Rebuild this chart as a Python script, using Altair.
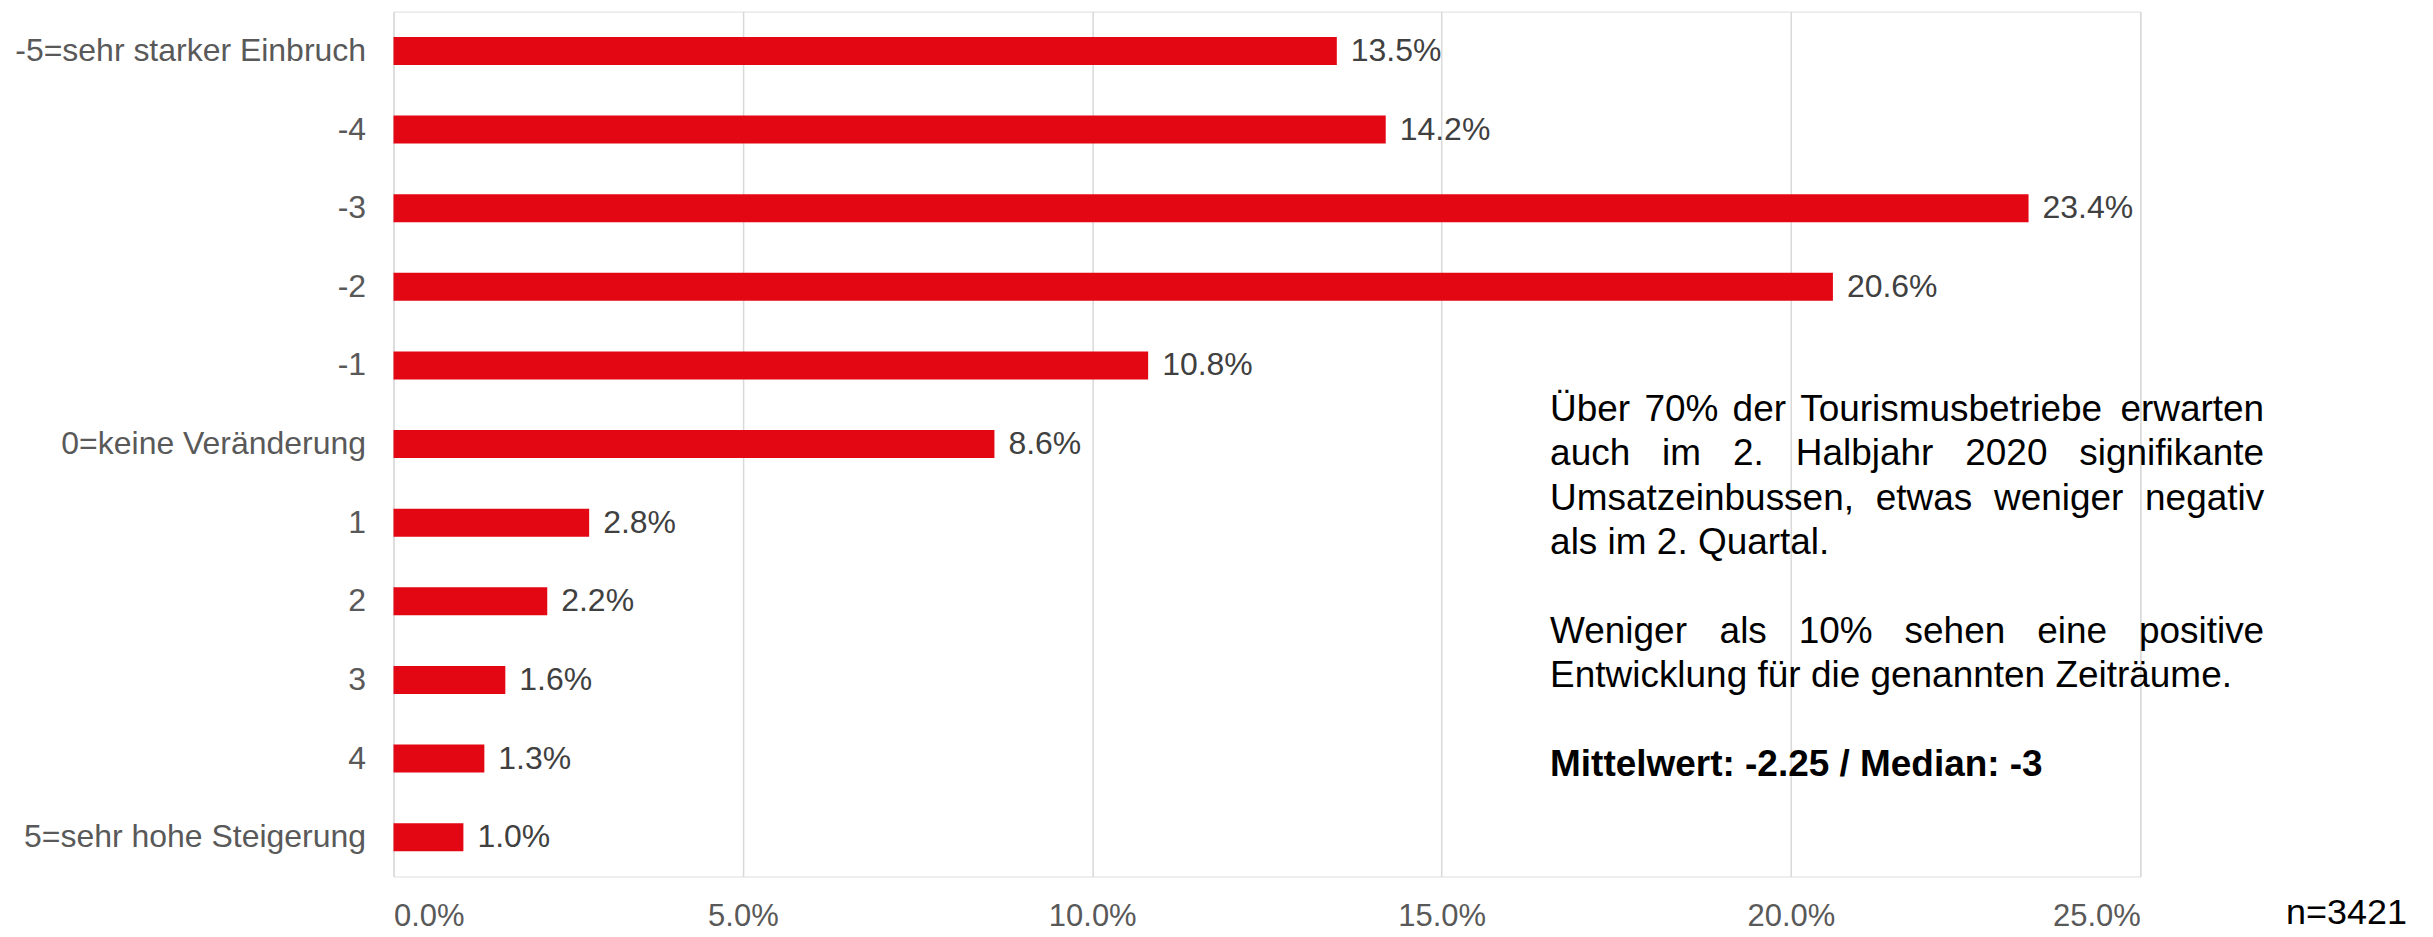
import altair as alt
import pandas as pd

categories = ["-5=sehr starker Einbruch", "-4", "-3", "-2", "-1", "0=keine Veränderung",
              "1", "2", "3", "4", "5=sehr hohe Steigerung"]
values = [0.135, 0.142, 0.234, 0.206, 0.108, 0.086, 0.028, 0.022, 0.016, 0.013, 0.010]

note_lines = [
    "Über 70% der Tourismusbetriebe erwarten",
    "auch im 2. Halbjahr 2020 signifikante",
    "Umsatzeinbussen, etwas weniger negativ",
    "als im 2. Quartal.",
    "",
    "Weniger als 10% sehen eine positive",
    "Entwicklung für die genannten Zeiträume.",
    "",
    "Mittelwert: -2.25 / Median: -3",
]
justified = [True, True, True, False, False, True, False, False, False]
bold = [False, False, False, False, False, False, False, False, True]
n_label = "n=3421"

FONT = "Liberation Sans"
W, H = 1749, 866
XMAX = 0.25

# layout of the annotation block (pixels relative to plot area)
NOTE_X0, NOTE_X1 = 1158, 1873
NOTE_Y0, NOTE_LH, NOTE_FS = 410, 44.4, 37

# Arial / Liberation Sans advance widths (1/1000 em), used for justification
AW = {" ": 278, "%": 889, ",": 278, "-": 333, ".": 278, "/": 278, ":": 278, "=": 584,
      "A": 667, "B": 667, "C": 722, "D": 722, "E": 667, "F": 611, "G": 778, "H": 722,
      "I": 278, "J": 500, "K": 667, "L": 556, "M": 833, "N": 722, "O": 778, "P": 667,
      "Q": 778, "R": 722, "S": 667, "T": 611, "U": 722, "V": 667, "W": 944, "X": 667,
      "Y": 667, "Z": 611, "Ü": 722,
      "a": 556, "b": 556, "c": 500, "d": 556, "e": 556, "f": 278, "g": 556, "h": 556,
      "i": 222, "j": 222, "k": 500, "l": 222, "m": 833, "n": 556, "o": 556, "p": 556,
      "q": 556, "r": 333, "s": 500, "t": 278, "u": 556, "v": 500, "w": 722, "x": 500,
      "y": 500, "z": 500, "ä": 556, "ü": 556, "ö": 556}
for d in "0123456789":
    AW[d] = 556


def tw(s, fs):
    return sum(AW.get(ch, 556) for ch in s) * fs / 1000.0


df = pd.DataFrame({"cat": categories, "val": values})

x = alt.X("val:Q", scale=alt.Scale(domain=[0, XMAX], nice=False),
          axis=alt.Axis(format=".1%", values=[0, 0.05, 0.1, 0.15, 0.2, 0.25],
                        grid=True, gridColor="#d9d9d9", gridWidth=1.5,
                        domain=False, ticks=False, labelFont=FONT, labelFontSize=31,
                        labelColor="#595959", labelPadding=25, title=None))
y = alt.Y("cat:N", sort=categories,
          scale=alt.Scale(paddingInner=0.644, paddingOuter=0.322),
          axis=alt.Axis(domain=False, ticks=False, grid=False, labelFont=FONT,
                        labelFontSize=32, labelColor="#595959", labelPadding=28,
                        labelLimit=700, title=None))

bars = alt.Chart(df).mark_bar(color="#E30613").encode(x=x, y=y)
labels = alt.Chart(df).mark_text(align="left", baseline="middle", dx=14,
                                 font=FONT, fontSize=32, color="#404040").encode(
    x="val:Q", y=alt.Y("cat:N", sort=categories), text=alt.Text("val:Q", format=".1%"))

layers = [bars, labels]
for i, line in enumerate(note_lines):
    if not line:
        continue
    words = line.split(" ")
    widths = [tw(w, NOTE_FS) for w in words]
    if justified[i] and len(words) > 1:
        gap = (NOTE_X1 - NOTE_X0 - sum(widths)) / (len(words) - 1)
    else:
        gap = tw(" ", NOTE_FS)
    if bold[i]:
        words, widths = [line], [0]
    xs, cur = [], NOTE_X0
    for w, s in zip(words, widths):
        xs.append(cur / W * XMAX)
        cur += s + gap
    wdf = pd.DataFrame({"wx": xs, "word": words})
    layers.append(
        alt.Chart(wdf).mark_text(
            align="left", baseline="alphabetic", font=FONT, fontSize=NOTE_FS,
            fontWeight="bold" if bold[i] else "normal", color="#000000").encode(
            x=alt.X("wx:Q"), y=alt.value(NOTE_Y0 + i * NOTE_LH), text="word:N"))

nlab = alt.Chart(pd.DataFrame({"t": [n_label]})).mark_text(
    align="right", baseline="alphabetic", font=FONT, fontSize=36, color="#000000").encode(
    x=alt.value(2016), y=alt.value(914), text="t")
layers.append(nlab)

chart = alt.layer(*layers).properties(
    width=W, height=H, autosize="none",
    padding={"left": 386, "top": 3, "right": 285, "bottom": 55},
).configure_view(stroke=None).configure(background="white")

chart.save("out.html", embed_options={"renderer": "svg", "actions": False})
